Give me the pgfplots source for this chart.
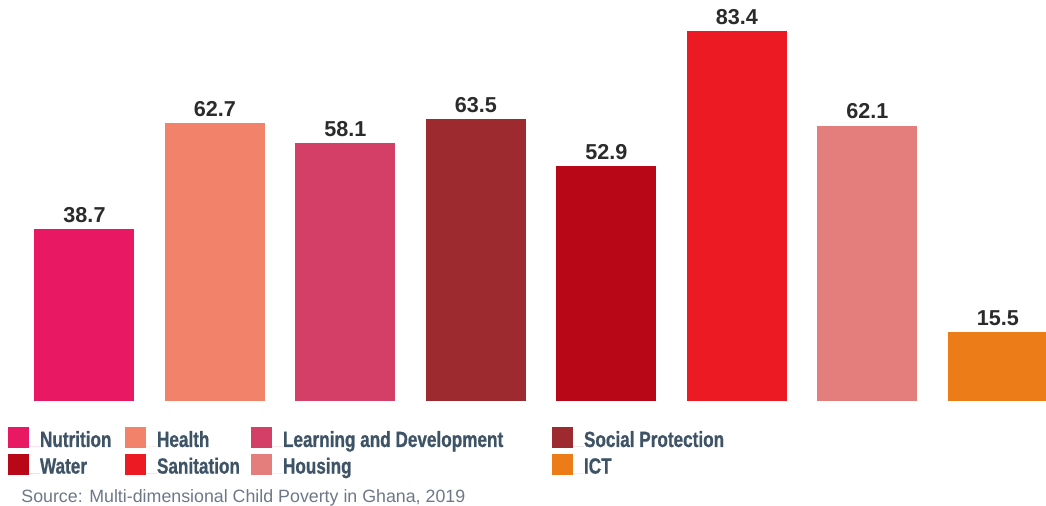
\documentclass[border=0pt]{standalone}
\usepackage{fontspec}
\setmainfont{Liberation Sans}
\newfontfamily\legfont[FakeStretch=0.78,BoldFeatures={FakeBold=0.8}]{Liberation Sans}
\usepackage{pgfplots}
\pgfplotsset{compat=1.18}
\definecolor{cNut}{HTML}{E91862}
\definecolor{cHea}{HTML}{F2826A}
\definecolor{cLea}{HTML}{D43F68}
\definecolor{cSoc}{HTML}{9C2A2E}
\definecolor{cWat}{HTML}{B80818}
\definecolor{cSan}{HTML}{EC1A22}
\definecolor{cHou}{HTML}{E47E7D}
\definecolor{cICT}{HTML}{EC7C18}
\definecolor{lab}{HTML}{2B2B2B}
\definecolor{legtext}{HTML}{3E5466}
\definecolor{srcgrey}{HTML}{6E7787}
\pgfplotsset{sqleg/.style={legend image code/.code={\fill[##1,draw=none] (0pt,-0.5pt) rectangle (10.5pt,10pt); \path (0pt,0pt) -- (16pt,0pt);}}}
\begin{document}
\begin{tikzpicture}
\begin{axis}[
  at={(0,0)}, anchor=south west,
  scale only axis, width=523pt, height=200.5pt,
  hide axis, clip=false,
  xmin=-0.6475, xmax=7.368, ymin=0, ymax=90.4,
  ybar, bar width=50pt, bar shift=0pt,
  /pgf/number format/fixed,
  /pgf/number format/fixed zerofill,
  /pgf/number format/precision=1,
  /pgf/number format/assume math mode=true,
  nodes near coords,
  every node near coord/.append style={font=\fontsize{10.8}{12}\selectfont\bfseries, text=lab, anchor=south, inner sep=0pt, yshift=3pt},
  legend columns=4,
  legend cell align=left,
  legend style={draw=none, fill=none, inner sep=0pt, outer sep=0pt, column sep=0pt, row sep=2.8pt,
    at={(0.00765,-0.0648)}, anchor=north west,
    font={\legfont\bfseries\fontsize{11}{13}\selectfont}, text=legtext,
    nodes={inner sep=0pt, text height=10pt, text depth=0.5pt, anchor=base west}},
]
\addplot[fill=cNut,draw=none,sqleg] coordinates {(0,38.7)};
\addlegendentry{\makebox[42.5pt][l]{Nutrition}}
\addplot[fill=cHea,draw=none,sqleg] coordinates {(1,62.7)};
\addlegendentry{\makebox[47pt][l]{Health}}
\addplot[fill=cLea,draw=none,sqleg] coordinates {(2,58.1)};
\addlegendentry{\makebox[134.5pt][l]{Learning and Development}}
\addplot[fill=cSoc,draw=none,sqleg] coordinates {(3,63.5)};
\addlegendentry{Social Protection}
\addplot[fill=cWat,draw=none,sqleg] coordinates {(4,52.9)};
\addlegendentry{Water}
\addplot[fill=cSan,draw=none,sqleg] coordinates {(5,83.4)};
\addlegendentry{Sanitation}
\addplot[fill=cHou,draw=none,sqleg] coordinates {(6,62.1)};
\addlegendentry{Housing}
\addplot[fill=cICT,draw=none,sqleg] coordinates {(7,15.5)};
\addlegendentry{ICT}
\end{axis}
\node[anchor=base west, font=\fontsize{8.9}{10}\selectfont, text=srcgrey, inner sep=0pt] at (10.5pt,-50.65pt) {Source: Multi-dimensional Child Poverty in Ghana, 2019};
\pgfresetboundingbox
\path (0pt,-52.5pt) rectangle (523pt,200.5pt);
\end{tikzpicture}
\end{document}
